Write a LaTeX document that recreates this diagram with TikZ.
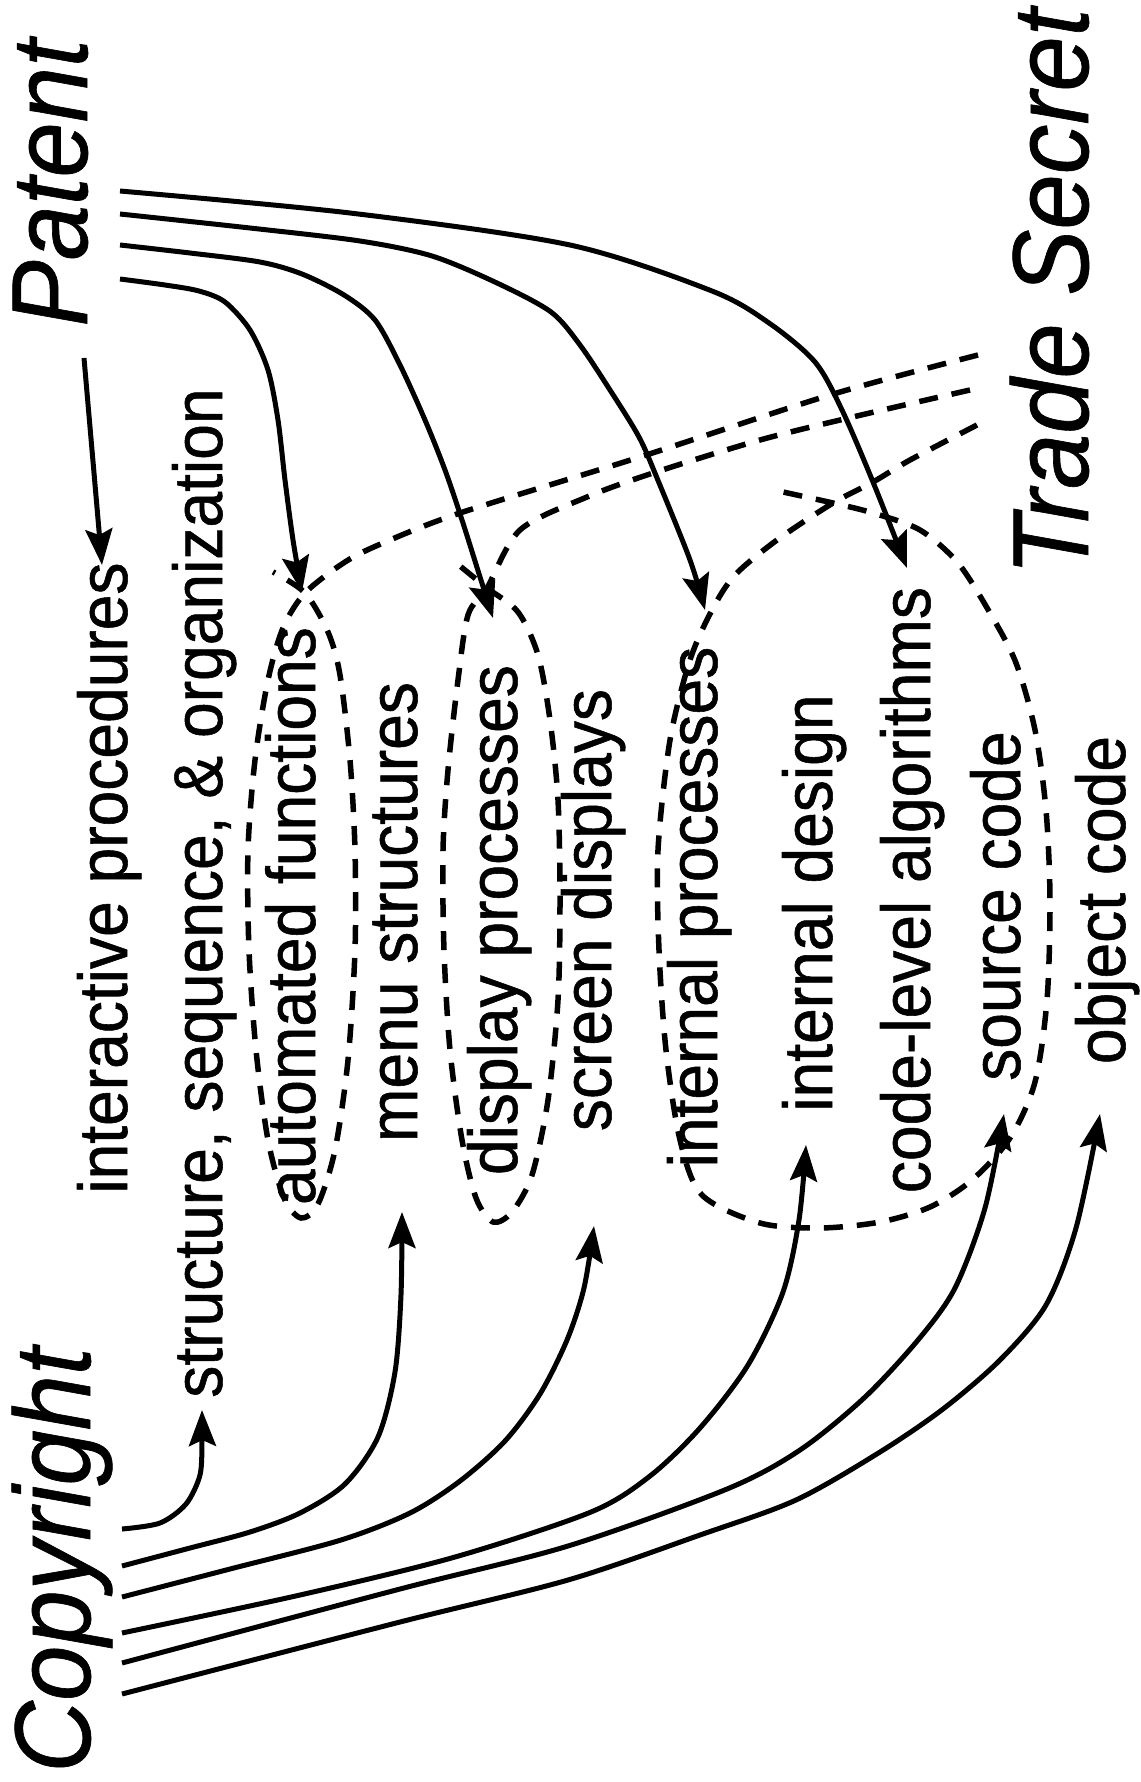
\documentclass[tikz,border=0pt]{standalone}
\usepackage{fontspec}
\setmainfont{Liberation Sans}
\newfontfamily\itemfont[FakeStretch=0.93,FakeBold=0.8]{Liberation Sans}
\newfontfamily\bigfont[FakeStretch=0.92,FakeBold=0.6]{Liberation Sans}
\usetikzlibrary{arrows.meta}
\begin{document}
\begin{tikzpicture}[x=1pt,y=-1pt,
  lbl/.style={rotate=90, anchor=base, inner sep=0pt, font=\itemfont\fontsize{69}{75}\selectfont},
  biglbl/.style={rotate=90, anchor=base, inner sep=0pt, font=\bigfont\fontsize{108}{118}\selectfont\itshape},
  conn/.style={line width=5pt, line join=round, -{Stealth[length=36pt,width=27pt,inset=6pt]}},
  tail/.style={line width=5.5pt, dash pattern=on 19pt off 14pt}]
\useasboundingbox (0,0) rectangle (1140,1782);
\fill[white] (0,0) rectangle (1140,1782);

% big labels
\node[biglbl] (patent) at (87,183) {Patent};
\node[biglbl] (copyright) at (90,1560) {Copyright};
\node[biglbl] (trade) at (1088,292) {Trade Secret};

% items
\node[lbl] (interactive) at (127,878) {interactive procedures};
\node[lbl] (structure) at (222,893) {structure, sequence, \& organization};
\node[lbl] (automated) at (315,916) {automated functions};
\node[lbl] (menu) at (417,912) {menu structures};
\node[lbl] (display) at (517,920) {display processes};
\node[lbl] (screen) at (611,910) {screen displays};
\node[lbl] (intproc) at (717,907) {internal processes};
\node[lbl] (intdesign) at (832,903) {internal design};
\node[lbl] (codelevel) at (930,890) {code-level algorithms};
\node[lbl] (source) at (1020,906) {source code};
\node[lbl] (object) at (1125,900) {object code};

% patent connector ends
\coordinate (pA) at (120,191);
\coordinate (pB) at (120,214);
\coordinate (pC) at (120,245);
\coordinate (pD) at (120,279);
\coordinate (pI) at (84,358);
\coordinate (tA) at (907,568);
\coordinate (tB) at (705,610);
\coordinate (tC) at (493,618);
\coordinate (tD) at (302,592);
\coordinate (tI) at (102,565);

\draw[conn] (pI) -- (tI);
\draw[conn] plot[smooth,tension=0.5] coordinates {(pA) (350,213) (570,245) (712,291) (769,323) (815,362) (842,410) (873,482) (tA)};
\draw[conn] plot[smooth,tension=0.5] coordinates {(pB) (250,228) (360,241) (432,256) (497,283) (551,312) (580,345) (610,390) (639,437) (657,478) (690,560) (tB)};
\draw[conn] plot[smooth,tension=0.5] coordinates {(pC) (190,253) (260,262) (302,274) (344,295) (375,320) (400,365) (425,420) (445,470) (462,520) (480,577) (tC)};
\draw[conn] plot[smooth,tension=0.5] coordinates {(pD) (165,285) (199,291) (225,302) (250,330) (268,370) (278,420) (285,480) (293,540) (tD)};

% copyright connector ends
\coordinate (c1) at (122,1529);
\coordinate (c2) at (122,1566);
\coordinate (c3) at (122,1597);
\coordinate (c4) at (122,1633);
\coordinate (c5) at (122,1663);
\coordinate (c6) at (122,1694);
\coordinate (s1) at (202,1410);
\coordinate (s2) at (402,1212);
\coordinate (s3) at (594,1226);
\coordinate (s4) at (806,1145);
\coordinate (s5) at (1004,1114);
\coordinate (s6) at (1100,1114);

\draw[conn] plot[smooth,tension=0.5] coordinates {(c1) (160,1523) (186,1504) (200,1475) (202,1441) (s1)};
\draw[conn] plot[smooth,tension=0.5] coordinates {(c2) (190,1548) (250,1532) (300,1513) (345,1484) (378,1437) (395,1372) (401,1295) (s2)};
\draw[conn] plot[smooth,tension=0.5] coordinates {(c3) (230,1569) (341,1540) (410,1513) (460,1481) (505,1441) (540,1394) (567,1340) (584,1288) (s3)};
\draw[conn] plot[smooth,tension=0.5] coordinates {(c4) (300,1595) (455,1557) (591,1512) (650,1476) (700,1428) (748,1365) (783,1292) (799,1220) (s4)};
\draw[conn] plot[smooth,tension=0.5] coordinates {(c5) (400,1589) (568,1546) (727,1489) (800,1450) (864,1398) (918,1340) (955,1288) (985,1208) (s5)};
\draw[conn] plot[smooth,tension=0.5] coordinates {(c6) (400,1622) (568,1580) (700,1535) (796,1500) (880,1452) (943,1409) (1000,1360) (1046,1305) (1076,1228) (s6)};

% trade secret dashed loops
\coordinate (d1) at (978,355);
\coordinate (d2) at (970,390);
\coordinate (d3) at (977,425);
\coordinate (e1) at (273,572);
\coordinate (e2) at (460,566);
\coordinate (e3) at (783,492);

\draw[tail] plot[smooth,tension=0.5] coordinates {(d1) (830,395) (640,457) (460,513) (383,543) (345,562) (305,593) (283,628) (268,680) (255,760) (248,850) (249,950) (256,1050) (268,1140) (284,1198) (301,1218) (318,1204) (335,1150) (348,1060) (355,950) (355,850) (350,760) (340,675) (328,632) (305,593) (e1)};
\draw[tail] plot[smooth,tension=0.5] coordinates {(d2) (857,416) (760,440) (653,473) (587,497) (520,530) (487,588) (468,615) (458,680) (448,770) (443,850) (444,950) (450,1050) (462,1140) (476,1198) (493,1222) (512,1212) (532,1175) (548,1100) (558,1000) (560,900) (558,800) (550,720) (538,655) (518,612) (487,588) (e2)};
\draw[tail] plot[smooth,tension=0.5] coordinates {(d3) (910,460) (873,482) (833,503) (777,540) (735,575) (712,610) (690,660) (670,740) (658,850) (659,950) (666,1050) (680,1140) (702,1195) (760,1223) (820,1228) (880,1222) (930,1207) (972,1180) (1010,1138) (1035,1082) (1047,1000) (1050,900) (1046,810) (1035,730) (1016,663) (990,613) (958,563) (920,530) (873,513) (833,503) (e3)};
\end{tikzpicture}
\end{document}
